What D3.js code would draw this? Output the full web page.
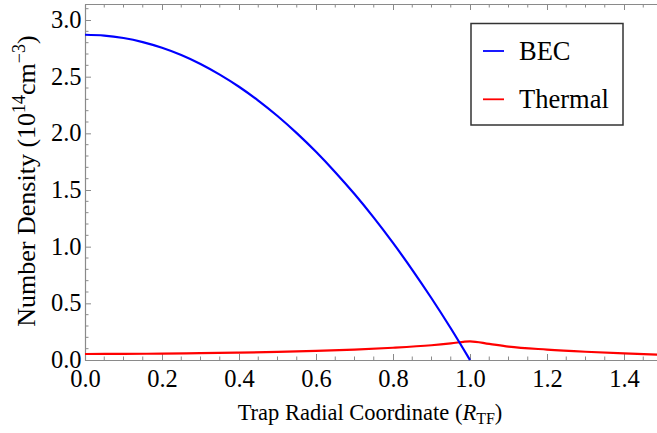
<!DOCTYPE html>
<html><head><meta charset="utf-8">
<script src="https://cdn.jsdelivr.net/npm/d3@7"></script>
</head>
<body style="margin:0;background:#fff"><svg id="c" width="657" height="433"></svg>
<script>
const becX = [0,0.05,0.1,0.15,0.2,0.25,0.3,0.35,0.4,0.45,0.5,0.55,0.6,0.65,0.7,0.75,0.8,0.85,0.9,0.95,1.0];
const becY = [2.870,2.863,2.841,2.805,2.755,2.691,2.612,2.518,2.411,2.289,2.153,2.002,1.837,1.657,1.464,1.256,1.033,0.796,0.545,0.280,0.000];
const thermX = [0,0.1,0.2,0.3,0.4,0.5,0.6,0.7,0.8,0.9,0.95,1.0,1.05,1.1,1.2,1.3,1.4,1.49];
const thermY = [0.053,0.054,0.056,0.060,0.065,0.072,0.080,0.092,0.108,0.130,0.146,0.165,0.142,0.118,0.092,0.073,0.058,0.046];
const xTicks = [0,0.2,0.4,0.6,0.8,1.0,1.2,1.4];
const yTicks = [0,0.5,1.0,1.5,2.0,2.5,3.0];
const seriesNames = ["BEC","Thermal"];
const seriesColors = ["#0000ff","#ff0000"];

const FONT = "'Liberation Serif'";
const svg = d3.select("#c").style("font-family",FONT);
const L=85, R=657, T=4, B=360;
const x = d3.scaleLinear().domain([0,(R-L)/385]).range([L,R]);
const y = d3.scaleLinear().domain([0,(B-T)/113.33]).range([B,T]);
const frame = "#8a8a8a";

const xMinor = d3.range(0,1.5,0.05).filter(v=>Math.abs(v/0.2-Math.round(v/0.2))>1e-6 && x(v)<=R);
const yMinor = d3.range(0,3.15,0.1).filter(v=>Math.abs(v/0.5-Math.round(v/0.5))>1e-6);

const g = svg.append("g");
const bx = g.append("g").attr("transform",`translate(0,${B})`)
  .call(d3.axisBottom(x).tickValues(xTicks).tickFormat(d3.format(".1f")).tickSizeInner(-6).tickSizeOuter(0).tickPadding(9.5));
bx.append("g").selectAll("line").data(xMinor).join("line")
  .attr("x1",d=>x(d)).attr("x2",d=>x(d)).attr("y1",0).attr("y2",-3.5);
const tx = g.append("g").attr("transform",`translate(0,${T})`)
  .call(d3.axisTop(x).tickValues(xTicks).tickFormat("").tickSizeInner(-6).tickSizeOuter(0));
tx.append("g").selectAll("line").data(xMinor).join("line")
  .attr("x1",d=>x(d)).attr("x2",d=>x(d)).attr("y1",0).attr("y2",3.5);
const ly = g.append("g").attr("transform",`translate(${L},0)`)
  .call(d3.axisLeft(y).tickValues(yTicks).tickFormat(d3.format(".1f")).tickSizeInner(-6).tickSizeOuter(0).tickPadding(3.5));
ly.append("g").selectAll("line").data(yMinor).join("line")
  .attr("y1",d=>y(d)).attr("y2",d=>y(d)).attr("x1",0).attr("x2",3.5);

[bx,tx,ly].forEach(a=>{
  a.attr("font-family",null).attr("font-size",null);
  a.selectAll("path").attr("stroke",frame).attr("stroke-width",1.2);
  a.selectAll("line").attr("stroke",frame).attr("stroke-width",1);
  a.selectAll("text").style("font-family",FONT).style("font-size","24.5px").attr("fill","#000");
});
ly.selectAll(".tick text").attr("dy","0.3em");
bx.selectAll(".tick text").attr("dy","0.71em");

svg.append("clipPath").attr("id","clip").append("rect").attr("x",L).attr("y",T).attr("width",R-L).attr("height",B-T+1);
const line = d3.line().x(d=>x(d[0])).y(d=>y(d[1])).curve(d3.curveMonotoneX);
const plot = svg.append("g").attr("clip-path","url(#clip)");
plot.append("path").datum(thermX.map((v,i)=>[v,thermY[i]])).attr("d",line)
  .attr("fill","none").attr("stroke",seriesColors[1]).attr("stroke-width",2.2);
plot.append("path").datum(becX.map((v,i)=>[v,becY[i]])).attr("d",line)
  .attr("fill","none").attr("stroke",seriesColors[0]).attr("stroke-width",2.2);

const lg = svg.append("g");
lg.append("rect").attr("x",471).attr("y",23.5).attr("width",152).attr("height",101.5)
  .attr("fill","#fff").attr("stroke","#333").attr("stroke-width",1.5);
seriesNames.forEach((n,i)=>{
  const yy = 51 + i*48.3;
  lg.append("line").attr("x1",483).attr("x2",504).attr("y1",yy).attr("y2",yy)
    .attr("stroke",seriesColors[i]).attr("stroke-width",1.8);
  lg.append("text").attr("x",519).attr("y",yy+8.5).text(n)
    .style("font-family",FONT).style("font-size","26.5px");
});

const xt = svg.append("text").attr("x",370).attr("y",420).attr("text-anchor","middle")
  .style("font-family",FONT).style("font-size","22.5px");
xt.append("tspan").text("Trap Radial Coordinate (");
xt.append("tspan").text("R").style("font-style","italic");
xt.append("tspan").text("TF").style("font-size","16px").attr("dy",4);
xt.append("tspan").text(")").attr("dy",-4);

const yt = svg.append("text").attr("transform","translate(35,181) rotate(-90)").attr("text-anchor","middle")
  .style("font-family",FONT).style("font-size","26px");
yt.append("tspan").text("Number Density (10");
yt.append("tspan").text("14").style("font-size","18px").attr("dy",-10);
yt.append("tspan").text("cm").attr("dy",10);
yt.append("tspan").text("−3").style("font-size","18px").attr("dy",-10);
yt.append("tspan").text(")").attr("dy",10);
</script></body></html>
